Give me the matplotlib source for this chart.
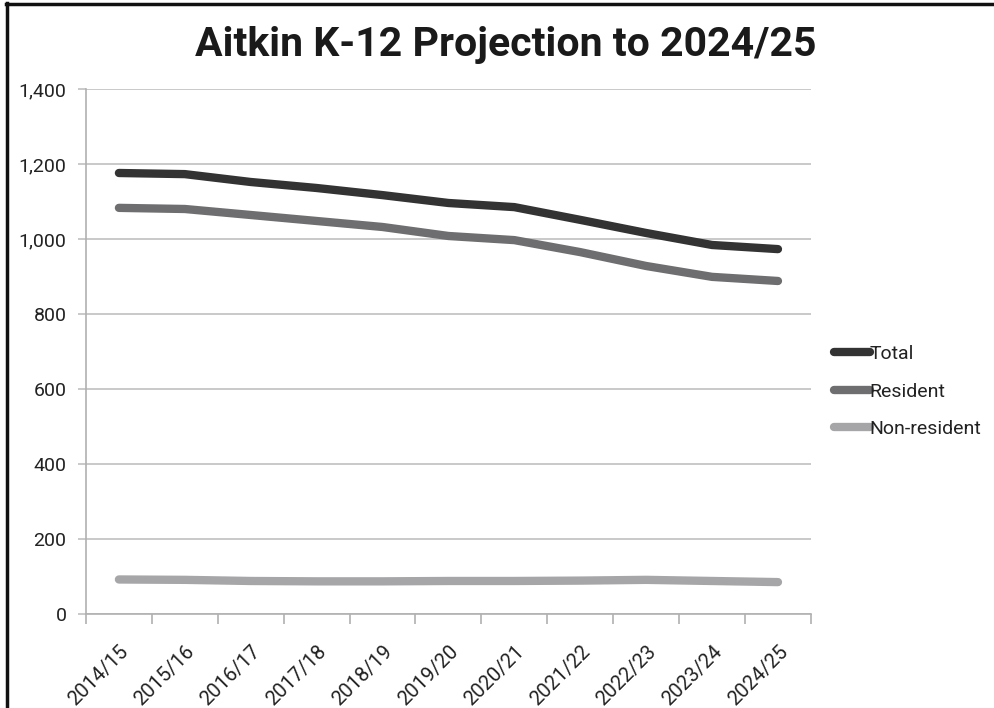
import matplotlib.pyplot as plt
import numpy as np

plt.rcParams['font.family'] = ['Roboto', 'DejaVu Sans']

years = ["2014/15", "2015/16", "2016/17", "2017/18", "2018/19", "2019/20",
         "2020/21", "2021/22", "2022/23", "2023/24", "2024/25"]
total = [1176, 1173, 1152, 1136, 1117, 1096, 1085, 1051, 1016, 984, 973]
resident = [1083, 1080, 1064, 1048, 1032, 1008, 997, 965, 928, 899, 888]
nonresident = [92, 91, 88, 87, 87, 88, 88, 89, 91, 88, 85]

fig = plt.figure(figsize=(9.95, 7.08), dpi=100)
ax = fig.add_axes([0.0864, 0.1328, 0.7286, 0.7415])

x = np.arange(len(years))
ax.plot(x, total, color="#333333", lw=6, solid_capstyle="round", label="Total")
ax.plot(x, resident, color="#6e6e70", lw=6, solid_capstyle="round", label="Resident")
ax.plot(x, nonresident, color="#a6a6a9", lw=6, solid_capstyle="round", label="Non-resident")

ax.set_xlim(-0.5, len(years) - 0.5)
ax.set_ylim(0, 1400)
ax.set_yticks(range(0, 1401, 200))
ax.set_yticklabels([f"{v:,}" for v in range(0, 1401, 200)])
ax.yaxis.grid(True, color="#c0c0c0", lw=1.2)
ax.set_axisbelow(True)

ax.set_xticks(x)
ax.set_xticklabels(years, rotation=45, ha="right", rotation_mode="anchor")
ax.set_xticks(np.arange(-0.5, len(years)), minor=True)
ax.tick_params(axis="x", which="major", length=0, pad=20, labelsize=14.5, colors="#222222")
ax.tick_params(axis="x", which="minor", length=7, width=1.2, color="#b0b0b0")
ax.tick_params(axis="y", length=6, width=1.2, color="#c0c0c0", labelsize=14,
               labelcolor="#222222", pad=8)

for s in ["top", "right"]:
    ax.spines[s].set_visible(False)
for s in ["left", "bottom"]:
    ax.spines[s].set_color("#b0b0b0")
    ax.spines[s].set_linewidth(1.2)

fig.text(0.508, 0.936, "Aitkin K-12 Projection to 2024/25", ha="center", va="center",
         fontsize=29.5, fontweight="bold", color="#1a1a1a")

leg = fig.legend(loc="center left", bbox_to_anchor=(0.838, 0.447), frameon=False,
                 fontsize=14, handlelength=1.85, handletextpad=0.0, labelspacing=1.0,
                 borderpad=0, borderaxespad=0)
for t in leg.get_texts():
    t.set_color("#222222")

# outer frame (left and top only visible)
fig.add_artist(plt.Line2D([0.007, 0.007], [0, 0.996], color="#111111", lw=2.5,
                          transform=fig.transFigure))
fig.add_artist(plt.Line2D([0.006, 1], [0.995, 0.995], color="#111111", lw=2.5,
                          transform=fig.transFigure))

fig.savefig("out.png", dpi=100)
